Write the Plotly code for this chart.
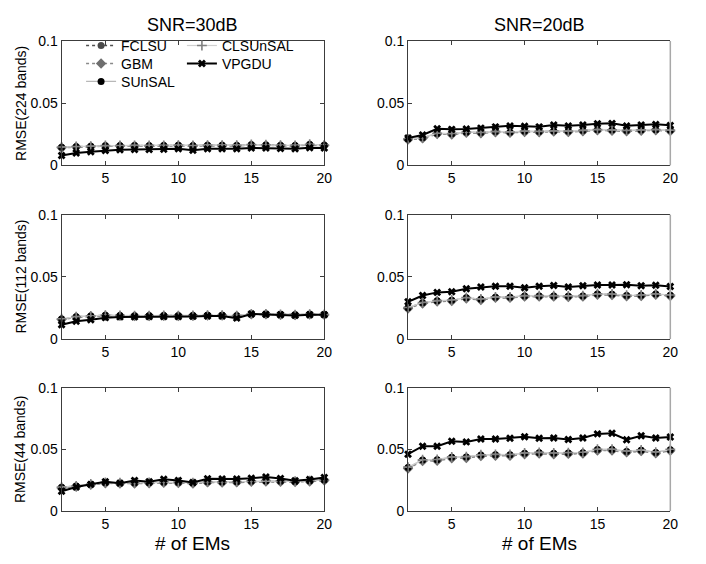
import plotly.graph_objects as go

# Number of endmembers on the x axis
num_ems = list(range(2, 21))

methods = ["FCLSU", "GBM", "SUnSAL", "CLSUnSAL", "VPGDU"]

# ---- SNR = 30 dB, 224 bands ----
a_fclsu = [0.0145, 0.0150, 0.0153, 0.0158, 0.0158, 0.0159, 0.0158, 0.0159, 0.0161, 0.0158, 0.0161, 0.0161, 0.0160, 0.0166, 0.0164, 0.0160, 0.0159, 0.0168, 0.0162]
a_gbm = [0.0142, 0.0148, 0.0150, 0.0155, 0.0156, 0.0156, 0.0155, 0.0157, 0.0158, 0.0156, 0.0158, 0.0159, 0.0157, 0.0163, 0.0161, 0.0158, 0.0157, 0.0165, 0.0160]
a_sunsal = [0.0146, 0.0151, 0.0154, 0.0159, 0.0159, 0.0160, 0.0159, 0.0160, 0.0162, 0.0159, 0.0162, 0.0162, 0.0161, 0.0167, 0.0165, 0.0161, 0.0160, 0.0169, 0.0163]
a_clsunsal = [0.0148, 0.0152, 0.0155, 0.0160, 0.0160, 0.0161, 0.0160, 0.0161, 0.0163, 0.0160, 0.0163, 0.0163, 0.0162, 0.0168, 0.0166, 0.0162, 0.0161, 0.0170, 0.0164]
a_vpgdu = [0.0080, 0.0100, 0.0110, 0.0120, 0.0125, 0.0127, 0.0128, 0.0130, 0.0133, 0.0122, 0.0133, 0.0134, 0.0133, 0.0140, 0.0140, 0.0135, 0.0133, 0.0142, 0.0140]

# ---- SNR = 20 dB, 224 bands ----
d_fclsu = [0.0210, 0.0220, 0.0255, 0.0252, 0.0265, 0.0262, 0.0270, 0.0265, 0.0272, 0.0270, 0.0275, 0.0272, 0.0278, 0.0285, 0.0282, 0.0278, 0.0282, 0.0285, 0.0280]
d_gbm = [0.0207, 0.0217, 0.0252, 0.0249, 0.0262, 0.0259, 0.0267, 0.0262, 0.0269, 0.0267, 0.0272, 0.0269, 0.0275, 0.0282, 0.0279, 0.0275, 0.0279, 0.0282, 0.0277]
d_sunsal = [0.0212, 0.0222, 0.0257, 0.0254, 0.0267, 0.0264, 0.0272, 0.0267, 0.0274, 0.0272, 0.0277, 0.0274, 0.0280, 0.0287, 0.0284, 0.0280, 0.0284, 0.0287, 0.0282]
d_clsunsal = [0.0214, 0.0224, 0.0259, 0.0256, 0.0269, 0.0266, 0.0274, 0.0269, 0.0276, 0.0274, 0.0279, 0.0276, 0.0282, 0.0289, 0.0286, 0.0282, 0.0286, 0.0289, 0.0284]
d_vpgdu = [0.0220, 0.0245, 0.0295, 0.0290, 0.0293, 0.0300, 0.0310, 0.0318, 0.0315, 0.0310, 0.0325, 0.0318, 0.0325, 0.0335, 0.0338, 0.0318, 0.0325, 0.0330, 0.0322]

# ---- SNR = 30 dB, 112 bands ----
b_fclsu = [0.0160, 0.0178, 0.0185, 0.0190, 0.0188, 0.0186, 0.0187, 0.0188, 0.0187, 0.0188, 0.0190, 0.0190, 0.0187, 0.0200, 0.0200, 0.0196, 0.0194, 0.0198, 0.0196]
b_gbm = [0.0157, 0.0175, 0.0182, 0.0187, 0.0186, 0.0184, 0.0185, 0.0186, 0.0185, 0.0186, 0.0188, 0.0188, 0.0185, 0.0198, 0.0198, 0.0194, 0.0192, 0.0196, 0.0194]
b_sunsal = [0.0161, 0.0179, 0.0186, 0.0191, 0.0189, 0.0187, 0.0188, 0.0189, 0.0188, 0.0189, 0.0191, 0.0191, 0.0188, 0.0201, 0.0201, 0.0197, 0.0195, 0.0199, 0.0197]
b_clsunsal = [0.0163, 0.0180, 0.0187, 0.0192, 0.0190, 0.0188, 0.0189, 0.0190, 0.0189, 0.0190, 0.0192, 0.0192, 0.0189, 0.0202, 0.0202, 0.0198, 0.0196, 0.0200, 0.0198]
b_vpgdu = [0.0115, 0.0143, 0.0155, 0.0172, 0.0178, 0.0178, 0.0180, 0.0180, 0.0180, 0.0182, 0.0185, 0.0185, 0.0168, 0.0202, 0.0198, 0.0195, 0.0190, 0.0195, 0.0196]

# ---- SNR = 20 dB, 112 bands ----
e_fclsu = [0.0250, 0.0290, 0.0305, 0.0310, 0.0330, 0.0318, 0.0335, 0.0335, 0.0345, 0.0345, 0.0345, 0.0342, 0.0345, 0.0360, 0.0358, 0.0348, 0.0350, 0.0360, 0.0350]
e_gbm = [0.0246, 0.0286, 0.0301, 0.0306, 0.0326, 0.0314, 0.0331, 0.0331, 0.0341, 0.0341, 0.0341, 0.0338, 0.0341, 0.0356, 0.0354, 0.0344, 0.0346, 0.0356, 0.0346]
e_sunsal = [0.0252, 0.0292, 0.0307, 0.0312, 0.0332, 0.0320, 0.0337, 0.0337, 0.0347, 0.0347, 0.0347, 0.0344, 0.0347, 0.0362, 0.0360, 0.0350, 0.0352, 0.0362, 0.0352]
e_clsunsal = [0.0254, 0.0294, 0.0309, 0.0314, 0.0334, 0.0322, 0.0339, 0.0339, 0.0349, 0.0349, 0.0349, 0.0346, 0.0349, 0.0364, 0.0362, 0.0352, 0.0354, 0.0364, 0.0354]
e_vpgdu = [0.0300, 0.0350, 0.0375, 0.0380, 0.0405, 0.0418, 0.0425, 0.0425, 0.0412, 0.0425, 0.0430, 0.0418, 0.0428, 0.0435, 0.0435, 0.0437, 0.0428, 0.0433, 0.0423]

# ---- SNR = 30 dB, 44 bands ----
c_fclsu = [0.0190, 0.0200, 0.0215, 0.0228, 0.0225, 0.0225, 0.0228, 0.0232, 0.0230, 0.0225, 0.0235, 0.0233, 0.0235, 0.0240, 0.0242, 0.0240, 0.0238, 0.0242, 0.0250]
c_gbm = [0.0187, 0.0197, 0.0212, 0.0225, 0.0222, 0.0222, 0.0225, 0.0229, 0.0227, 0.0222, 0.0232, 0.0230, 0.0232, 0.0237, 0.0239, 0.0237, 0.0235, 0.0239, 0.0247]
c_sunsal = [0.0192, 0.0202, 0.0217, 0.0230, 0.0227, 0.0227, 0.0230, 0.0234, 0.0232, 0.0227, 0.0237, 0.0235, 0.0237, 0.0242, 0.0244, 0.0242, 0.0240, 0.0244, 0.0252]
c_clsunsal = [0.0194, 0.0204, 0.0219, 0.0232, 0.0229, 0.0229, 0.0232, 0.0236, 0.0234, 0.0229, 0.0239, 0.0237, 0.0239, 0.0244, 0.0246, 0.0244, 0.0242, 0.0246, 0.0254]
c_vpgdu = [0.0160, 0.0195, 0.0216, 0.0238, 0.0226, 0.0248, 0.0238, 0.0258, 0.0248, 0.0232, 0.0262, 0.0260, 0.0260, 0.0266, 0.0275, 0.0264, 0.0245, 0.0255, 0.0272]

# ---- SNR = 20 dB, 44 bands ----
f_fclsu = [0.0350, 0.0410, 0.0412, 0.0433, 0.0435, 0.0450, 0.0453, 0.0452, 0.0465, 0.0470, 0.0465, 0.0468, 0.0470, 0.0495, 0.0495, 0.0480, 0.0490, 0.0472, 0.0494]
f_gbm = [0.0345, 0.0405, 0.0407, 0.0428, 0.0430, 0.0445, 0.0448, 0.0447, 0.0460, 0.0465, 0.0460, 0.0463, 0.0465, 0.0490, 0.0490, 0.0475, 0.0485, 0.0467, 0.0489]
f_sunsal = [0.0353, 0.0413, 0.0415, 0.0436, 0.0438, 0.0453, 0.0456, 0.0455, 0.0468, 0.0473, 0.0468, 0.0471, 0.0473, 0.0498, 0.0498, 0.0483, 0.0493, 0.0475, 0.0497]
f_clsunsal = [0.0356, 0.0416, 0.0418, 0.0439, 0.0441, 0.0456, 0.0459, 0.0458, 0.0471, 0.0476, 0.0471, 0.0474, 0.0476, 0.0501, 0.0501, 0.0486, 0.0496, 0.0478, 0.0500]
f_vpgdu = [0.0460, 0.0525, 0.0525, 0.0565, 0.0560, 0.0583, 0.0583, 0.0590, 0.0602, 0.0590, 0.0592, 0.0580, 0.0592, 0.0625, 0.0630, 0.0578, 0.0610, 0.0592, 0.0600]

col_titles = ["SNR=30dB", "SNR=20dB"]
row_titles = ["RMSE(224 bands)", "RMSE(112 bands)", "RMSE(44 bands)"]
x_title = "# of EMs"
x_ticks = [5, 10, 15, 20]
y_ticks = [0, 0.05, 0.1]
y_tick_text = ["0", "0.05", "0.1"]

panels = [
    [a_fclsu, a_gbm, a_sunsal, a_clsunsal, a_vpgdu],
    [d_fclsu, d_gbm, d_sunsal, d_clsunsal, d_vpgdu],
    [b_fclsu, b_gbm, b_sunsal, b_clsunsal, b_vpgdu],
    [e_fclsu, e_gbm, e_sunsal, e_clsunsal, e_vpgdu],
    [c_fclsu, c_gbm, c_sunsal, c_clsunsal, c_vpgdu],
    [f_fclsu, f_gbm, f_sunsal, f_clsunsal, f_vpgdu],
]

styles = {
    "FCLSU": dict(line=dict(color="#505050", width=1.6, dash="dot"),
                  marker=dict(symbol="circle", size=7, color="#4a4a4a")),
    "GBM": dict(line=dict(color="#8a8a8a", width=1.6, dash="dot"),
                marker=dict(symbol="diamond", size=8, color="#6e6e6e")),
    "SUnSAL": dict(line=dict(color="#b8b8b8", width=1.2),
                   marker=dict(symbol="circle", size=7, color="#000000")),
    "CLSUnSAL": dict(line=dict(color="#d0d0d0", width=1.2),
                     marker=dict(symbol="cross-thin", size=7, color="#808080",
                                 line=dict(width=1.6, color="#808080"))),
    "VPGDU": dict(line=dict(color="#000000", width=2),
                  marker=dict(symbol="x", size=7, color="#000000")),
}

# one single-entry legend per method, laid out as two columns in the first panel
legend_ids = {"FCLSU": "legend", "GBM": "legend2", "SUnSAL": "legend3",
              "CLSUnSAL": "legend4", "VPGDU": "legend5"}
legend_pos = {"FCLSU": (82, 39), "GBM": (82, 57.5), "SUnSAL": (82, 76),
              "CLSUnSAL": (184, 39), "VPGDU": (184, 57.5)}

W, H = 706, 564
col_px = [(62.3, 328.0), (412.7, 678.0)]
row_px = [(34.0, 162.0), (212.7, 340.7), (390.7, 517.7)]

FONT = "Liberation Sans, Arial, sans-serif"
AX = "#3c3c3c"

fig = go.Figure()
layout = dict(
    width=W, height=H, margin=dict(l=0, r=0, t=0, b=0),
    paper_bgcolor="white", plot_bgcolor="white",
    font=dict(family=FONT, size=14, color="#000000"),
    showlegend=True,
)

shapes = []
annotations = []

for idx, series in enumerate(panels):
    r, c = divmod(idx, 2)
    n = idx + 1
    xa = "x" if n == 1 else f"x{n}"
    ya = "y" if n == 1 else f"y{n}"
    for m, vals in zip(methods, series):
        fig.add_trace(go.Scatter(
            x=num_ems, y=vals, mode="lines+markers", name=m,
            xaxis=xa, yaxis=ya, showlegend=(idx == 0), legend=legend_ids[m],
            cliponaxis=False, **styles[m]))
    x0, x1 = col_px[c]
    y0, y1 = row_px[r]
    xkey = "xaxis" if n == 1 else f"xaxis{n}"
    ykey = "yaxis" if n == 1 else f"yaxis{n}"
    layout[xkey] = dict(
        domain=[x0 / W, x1 / W], anchor=ya, range=[2, 20],
        tickvals=x_ticks, ticks="inside", ticklen=4, tickcolor=AX,
        showline=True, linecolor=AX, linewidth=1, mirror="ticks",
        showgrid=False, zeroline=False, tickfont=dict(size=14), fixedrange=True,
    )
    layout[ykey] = dict(
        domain=[1 - y1 / H, 1 - y0 / H], anchor=xa, range=[0, 0.1],
        tickvals=y_ticks, ticktext=y_tick_text, ticks="inside", ticklen=4,
        tickcolor=AX, showline=True, linecolor=AX, linewidth=1,
        mirror="ticks" if c == 0 else False,
        showgrid=False, zeroline=False, tickfont=dict(size=14), fixedrange=True,
    )
    if c == 1:
        # lighter right-hand frame edge on the 20 dB column
        shapes.append(dict(type="line", xref=f"{xa} domain", yref=f"{ya} domain",
                           x0=1, x1=1, y0=0, y1=1,
                           line=dict(color="#a8a8a8", width=1.5)))
    if c == 0:
        annotations.append(dict(
            text=row_titles[r], x=21 / W, y=1 - (y0 + y1) / 2 / H,
            xref="paper", yref="paper", showarrow=False, textangle=-90,
            font=dict(size=14), xanchor="center", yanchor="middle"))

for c in range(2):
    cx = (col_px[c][0] + col_px[c][1]) / 2 / W
    annotations.append(dict(text=col_titles[c], x=cx, y=1 - 17 / H,
                            xref="paper", yref="paper", showarrow=False,
                            font=dict(size=18), xanchor="center", yanchor="middle"))
    annotations.append(dict(text=x_title, x=cx, y=1 - 551 / H,
                            xref="paper", yref="paper", showarrow=False,
                            font=dict(size=19), xanchor="center", yanchor="middle"))

layout["shapes"] = shapes
layout["annotations"] = annotations
for m in methods:
    lx, ly = legend_pos[m]
    layout[legend_ids[m]] = dict(
        x=lx / W, y=1 - ly / H, xanchor="left", yanchor="middle",
        bgcolor="rgba(0,0,0,0)", borderwidth=0, font=dict(size=14),
        itemwidth=30)

fig.update_layout(**layout)
fig.write_html("out.html")
